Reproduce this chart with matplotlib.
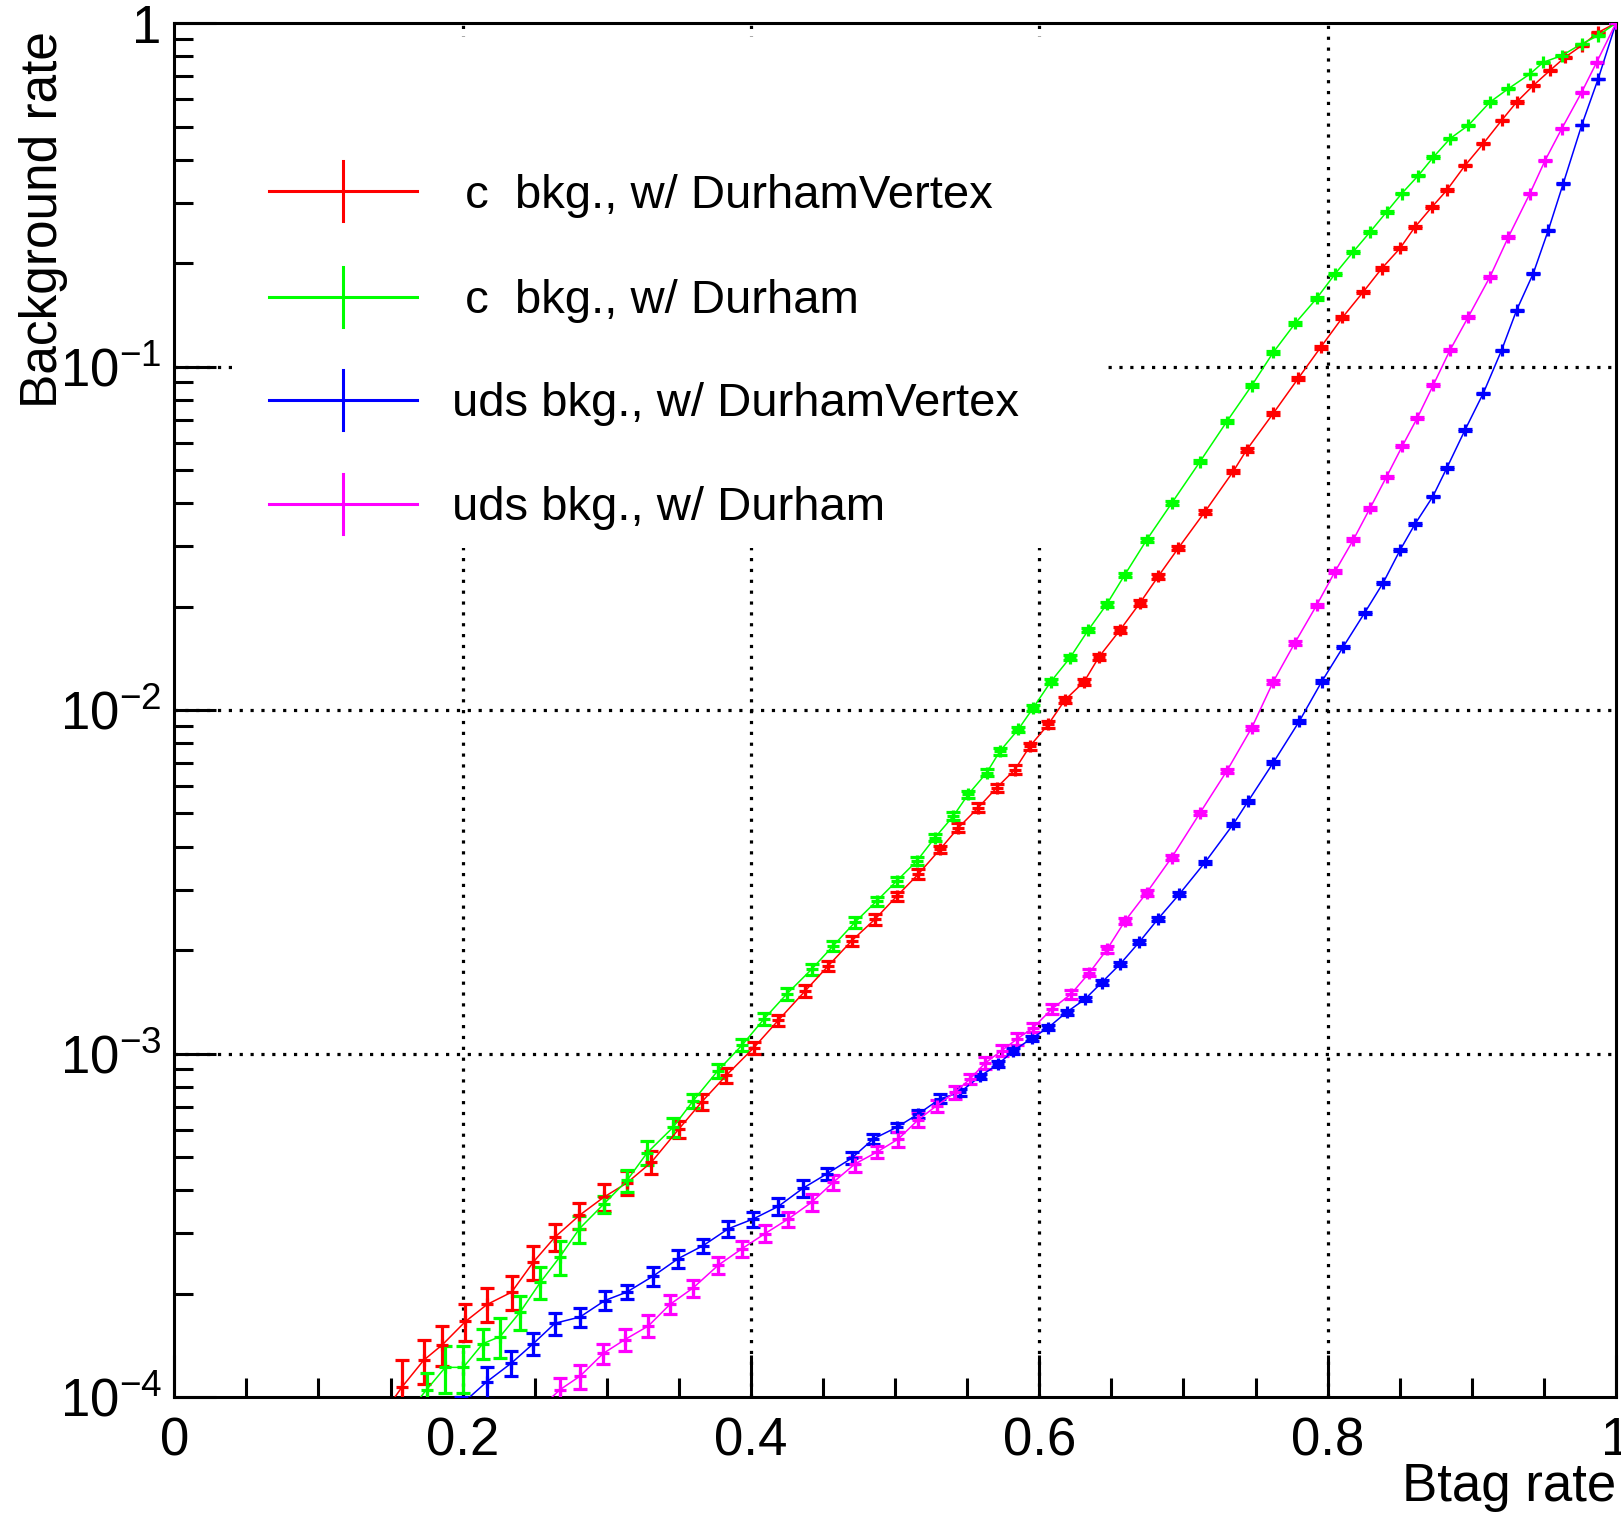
import matplotlib
matplotlib.use("Agg")
import matplotlib.pyplot as plt
import numpy as np
from matplotlib.ticker import MultipleLocator, LogLocator, NullFormatter
from matplotlib.patches import Rectangle

plt.rcParams['font.family'] = ['Liberation Sans', 'DejaVu Sans']
plt.rcParams['mathtext.fontset'] = 'custom'
plt.rcParams['mathtext.rm'] = 'Liberation Sans'
plt.rcParams['mathtext.it'] = 'Liberation Sans:italic'
plt.rcParams['mathtext.bf'] = 'Liberation Sans:bold'

# ---------------- data ----------------
labels = [" c  bkg., w/ DurhamVertex", " c  bkg., w/ Durham",
          "uds bkg., w/ DurhamVertex", "uds bkg., w/ Durham"]
colors = ["#ff0000", "#00ff00", "#0000ff", "#ff00ff"]

red_x = [0.143, 0.158, 0.173, 0.186, 0.202, 0.217, 0.234, 0.249, 0.264, 0.281, 0.298,
         0.314, 0.331, 0.350, 0.366, 0.383, 0.402, 0.419, 0.4375, 0.4536, 0.4699,
         0.4860, 0.5011, 0.5161, 0.5311, 0.5438, 0.5577, 0.5704, 0.5831, 0.5935, 0.6062,
         0.6178, 0.6311, 0.6415, 0.6560, 0.6698, 0.6825, 0.6964, 0.7149, 0.7345, 0.7438,
         0.7623, 0.7796, 0.7953, 0.8103, 0.8247, 0.8375, 0.8502, 0.8606, 0.8722, 0.8826,
         0.8953, 0.9080, 0.9207, 0.9311, 0.9426, 0.9542, 0.9646, 0.9762, 0.9877, 1.0]
red_y = [8.7e-5, 1.07e-4, 1.28e-4, 1.42e-4, 1.66e-4, 1.86e-4, 2.02e-4, 2.47e-4, 2.92e-4,
         3.38e-4, 3.82e-4, 4.20e-4, 4.83e-4, 6.03e-4, 7.24e-4, 8.65e-4, 1.04e-3, 1.25e-3,
         1.52e-3, 1.80e-3, 2.13e-3, 2.46e-3, 2.87e-3, 3.33e-3, 3.93e-3, 4.54e-3, 5.20e-3,
         5.94e-3, 6.71e-3, 7.85e-3, 9.08e-3, 1.07e-2, 1.21e-2, 1.43e-2, 1.71e-2, 2.05e-2,
         2.45e-2, 2.96e-2, 3.78e-2, 4.95e-2, 5.72e-2, 7.31e-2, 9.24e-2, 0.114, 0.139, 0.165,
         0.193, 0.221, 0.255, 0.291, 0.326, 0.385, 0.446, 0.521, 0.589, 0.658, 0.728, 0.795,
         0.860, 0.940, 1.0]
red_rel = [0.05, 0.197, 0.146, 0.135, 0.124, 0.113, 0.113, 0.113, 0.09, 0.085, 0.09, 0.08,
           0.074, 0.057, 0.051, 0.051, 0.04, 0.035, 0.04, 0.035, 0.035, 0.035, 0.03, 0.035,
           0.025, 0.03, 0.03, 0.027, 0.03, 0.024, 0.024, 0.022, 0.02, 0.02, 0.018, 0.018,
           0.016, 0.015, 0.014, 0.013, 0.013, 0.012, 0.011, 0.010, 0.009, 0.009, 0.008,
           0.008, 0.007, 0.007, 0.006, 0.006, 0.005, 0.005, 0.004, 0.004, 0.003, 0.003,
           0.002, 0.002, 0.0]

green_x = [0.162, 0.175, 0.188, 0.2005, 0.214, 0.226, 0.240, 0.254, 0.2675, 0.281, 0.298,
           0.314, 0.328, 0.346, 0.360, 0.377, 0.394, 0.409, 0.4248, 0.4421, 0.4571, 0.4721,
           0.4872, 0.5011, 0.5149, 0.5276, 0.5403, 0.5507, 0.5635, 0.5727, 0.5854, 0.5958,
           0.608, 0.6213, 0.6340, 0.6467, 0.6594, 0.6745, 0.6918, 0.7115, 0.7300, 0.7473,
           0.7623, 0.7774, 0.7924, 0.8051, 0.8178, 0.8294, 0.8409, 0.8514, 0.8629, 0.8733,
           0.8849, 0.8976, 0.9126, 0.9253, 0.9403, 0.9496, 0.9623, 0.9762, 0.9877, 1.0]
green_y = [9.0e-5, 1.05e-4, 1.22e-4, 1.22e-4, 1.43e-4, 1.50e-4, 1.77e-4, 2.16e-4, 2.56e-4,
           3.09e-4, 3.65e-4, 4.27e-4, 5.14e-4, 6.10e-4, 7.29e-4, 8.91e-4, 1.06e-3, 1.26e-3,
           1.49e-3, 1.76e-3, 2.06e-3, 2.41e-3, 2.78e-3, 3.18e-3, 3.63e-3, 4.25e-3, 4.91e-3,
           5.68e-3, 6.57e-3, 7.59e-3, 8.78e-3, 1.015e-2, 1.21e-2, 1.42e-2, 1.71e-2, 2.03e-2,
           2.48e-2, 3.13e-2, 4.00e-2, 5.29e-2, 6.91e-2, 8.8e-2, 0.110, 0.1335, 0.158, 0.186,
           0.216, 0.2465, 0.282, 0.319, 0.360, 0.407, 0.461, 0.504, 0.589, 0.644, 0.711,
           0.769, 0.804, 0.870, 0.920, 1.0]
green_rel = [0.05, 0.12, 0.157, 0.157, 0.10, 0.135, 0.113, 0.107, 0.113, 0.09, 0.057, 0.074,
             0.079, 0.062, 0.046, 0.046, 0.04, 0.04, 0.04, 0.035, 0.035, 0.035, 0.03, 0.03,
             0.028, 0.025, 0.025, 0.025, 0.022, 0.025, 0.02, 0.02, 0.018, 0.017, 0.016,
             0.015, 0.014, 0.013, 0.012, 0.011, 0.010, 0.010, 0.009, 0.008, 0.008, 0.007,
             0.007, 0.006, 0.006, 0.005, 0.005, 0.005, 0.004, 0.004, 0.004, 0.003, 0.003,
             0.003, 0.002, 0.002, 0.002, 0.0]

blue_x = [0.199, 0.2167, 0.2339, 0.2490, 0.2641, 0.2814, 0.2987, 0.3138, 0.3322, 0.3496,
          0.3669, 0.3843, 0.4016, 0.419, 0.4363, 0.4525, 0.4699, 0.4848, 0.5011, 0.5161,
          0.5311, 0.5450, 0.5589, 0.5715, 0.5820, 0.5947, 0.6062, 0.6190, 0.6317, 0.6433,
          0.6560, 0.6693, 0.6825, 0.6971, 0.7149, 0.7345, 0.7449, 0.7623, 0.7803, 0.7959,
          0.8109, 0.8257, 0.8386, 0.8502, 0.8606, 0.8729, 0.8826, 0.8953, 0.9080, 0.9207,
          0.9311, 0.9426, 0.9530, 0.9634, 0.9762, 0.9877, 1.0]
blue_y = [9.5e-5, 1.107e-4, 1.256e-4, 1.43e-4, 1.64e-4, 1.71e-4, 1.91e-4, 2.02e-4, 2.25e-4,
          2.53e-4, 2.76e-4, 3.09e-4, 3.30e-4, 3.59e-4, 4.06e-4, 4.46e-4, 4.96e-4, 5.64e-4,
          6.10e-4, 6.67e-4, 7.38e-4, 7.71e-4, 8.59e-4, 9.31e-4, 1.019e-3, 1.107e-3, 1.19e-3,
          1.32e-3, 1.44e-3, 1.61e-3, 1.82e-3, 2.11e-3, 2.47e-3, 2.91e-3, 3.60e-3, 4.65e-3,
          5.43e-3, 7.03e-3, 9.27e-3, 1.21e-2, 1.53e-2, 1.92e-2, 2.35e-2, 2.92e-2, 3.48e-2,
          4.18e-2, 5.06e-2, 6.54e-2, 8.37e-2, 0.1117, 0.146, 0.1866, 0.249, 0.341, 0.504,
          0.689, 1.0]
blue_rel = [0.05, 0.107, 0.085, 0.074, 0.074, 0.0625, 0.0625, 0.046, 0.0625, 0.0625, 0.046,
            0.051, 0.051, 0.057, 0.057, 0.04, 0.04, 0.035, 0.03, 0.024, 0.03, 0.024, 0.018,
            0.02, 0.02, 0.018, 0.017, 0.016, 0.015, 0.015, 0.014, 0.013, 0.013, 0.012, 0.011,
            0.011, 0.01, 0.009, 0.008, 0.008, 0.007, 0.007, 0.006, 0.006, 0.005, 0.005,
            0.005, 0.004, 0.004, 0.003, 0.003, 0.003, 0.002, 0.002, 0.001, 0.001, 0.0]

mag_x = [0.254, 0.2675, 0.2814, 0.2976, 0.3126, 0.3288, 0.3438, 0.3600, 0.3773, 0.3936,
         0.4097, 0.4259, 0.4421, 0.4571, 0.4721, 0.4872, 0.5022, 0.5161, 0.5288, 0.5415,
         0.5519, 0.5623, 0.5739, 0.5843, 0.5958, 0.6089, 0.6220, 0.6348, 0.6470, 0.6594,
         0.6745, 0.6918, 0.7115, 0.7300, 0.7473, 0.7623, 0.7773, 0.7924, 0.8051, 0.8178,
         0.8294, 0.8409, 0.8519, 0.8623, 0.8733, 0.8849, 0.8976, 0.9126, 0.9253, 0.9403,
         0.9508, 0.9623, 0.9762, 0.9866, 1.0]
mag_y = [9.3e-5, 1.05e-4, 1.15e-4, 1.34e-4, 1.47e-4, 1.61e-4, 1.86e-4, 2.08e-4, 2.42e-4,
         2.70e-4, 2.99e-4, 3.30e-4, 3.69e-4, 4.22e-4, 4.77e-4, 5.16e-4, 5.64e-4, 6.42e-4,
         7.05e-4, 7.71e-4, 8.43e-4, 9.37e-4, 1.02e-3, 1.10e-3, 1.19e-3, 1.35e-3, 1.49e-3,
         1.72e-3, 2.01e-3, 2.43e-3, 2.94e-3, 3.72e-3, 5.02e-3, 6.64e-3, 8.87e-3, 1.21e-2,
         1.57e-2, 2.02e-2, 2.53e-2, 3.13e-2, 3.87e-2, 4.78e-2, 5.88e-2, 7.1e-2, 8.84e-2,
         0.1117, 0.1396, 0.1825, 0.238, 0.319, 0.398, 0.492, 0.629, 0.769, 1.0]
mag_rel = [0.05, 0.08, 0.08, 0.068, 0.074, 0.074, 0.0625, 0.057, 0.057, 0.051, 0.057, 0.051,
           0.057, 0.051, 0.051, 0.04, 0.051, 0.046, 0.04, 0.046, 0.035, 0.04, 0.035, 0.04,
           0.03, 0.035, 0.03, 0.025, 0.022, 0.02, 0.02, 0.018, 0.016, 0.015, 0.014, 0.013,
           0.012, 0.011, 0.01, 0.01, 0.009, 0.008, 0.008, 0.007, 0.007, 0.006, 0.006, 0.005,
           0.005, 0.004, 0.004, 0.003, 0.003, 0.002, 0.0]

x_ticks = [0, 0.2, 0.4, 0.6, 0.8, 1.0]
x_ticklabels = ["0", "0.2", "0.4", "0.6", "0.8", "1"]
y_ticks = [1e-4, 1e-3, 1e-2, 1e-1, 1.0]
y_ticklabels = [r"$\mathregular{10^{-4}}$", r"$\mathregular{10^{-3}}$",
                r"$\mathregular{10^{-2}}$", r"$\mathregular{10^{-1}}$", "1"]

series = [(red_x, red_y, red_rel), (green_x, green_y, green_rel),
          (blue_x, blue_y, blue_rel), (mag_x, mag_y, mag_rel)]

# ---------------- figure ----------------
fig = plt.figure(figsize=(16.21, 15.20), dpi=100)
ax = fig.add_axes([0.1075, 0.0809, 0.8894, 0.9039])
ax.set_xscale('linear')
ax.set_yscale('log')
ax.set_xlim(0, 1)
ax.set_ylim(1e-4, 1)
ax.set_axisbelow(False)

# dotted grid
for xv in x_ticks[1:-1]:
    ax.axvline(xv, color='black', lw=2.3, ls=(0, (1, 2.4)), zorder=1)
for yv in y_ticks[1:-1]:
    ax.axhline(yv, color='black', lw=2.3, ls=(0, (1, 2.4)), zorder=1)

# white legend box hiding the grid
ax.add_patch(Rectangle((0.042, 0.618), 0.606, 0.372, transform=ax.transAxes,
                       facecolor='white', edgecolor='none', zorder=1.5))

for (xs, ys, rel), col in zip(series, colors):
    xs = np.asarray(xs); ys = np.asarray(ys); rel = np.asarray(rel)
    assert len(xs) == len(ys) == len(rel), (len(xs), len(ys), len(rel))
    ax.errorbar(xs, ys, yerr=ys * rel, color=col, lw=1.1, elinewidth=2.3,
                capsize=4.8, capthick=2.3, marker='+', markersize=8,
                markeredgewidth=2.3, zorder=3)

# ticks
ax.set_xticks(x_ticks)
ax.set_xticklabels(x_ticklabels)
ax.xaxis.set_minor_locator(MultipleLocator(0.05))
ax.set_yticks(y_ticks)
ax.set_yticklabels(y_ticklabels)
ax.yaxis.set_minor_locator(LogLocator(base=10, subs=np.arange(2, 10)))
ax.yaxis.set_minor_formatter(NullFormatter())
ax.tick_params(which='both', direction='in', top=False, right=False, width=2.2,
               labelsize=38)
ax.tick_params(which='major', length=30)
ax.tick_params(which='minor', length=13.5)
ax.tick_params(axis='x', which='major', pad=14)
ax.tick_params(axis='y', which='major', pad=9)
for sp in ax.spines.values():
    sp.set_linewidth(2.2)

# axis titles
ax.set_xlabel("Btag rate", fontsize=38, loc='right')
ax.xaxis.set_label_coords(1.0, -0.047)
ax.set_ylabel("Background rate", fontsize=37, loc='top')
ax.yaxis.set_label_coords(-0.074, 0.994)

# legend (drawn by hand, ROOT style)
leg_y = [0.8775, 0.8008, 0.7256, 0.6503]
for lab, col, yy in zip(labels, colors, leg_y):
    ax.plot([0.0657, 0.1683], [yy, yy], color=col, lw=2.2, transform=ax.transAxes,
            clip_on=False, zorder=4)
    ax.plot([0.117, 0.117], [yy - 0.0218, yy + 0.0218], color=col, lw=2.2,
            transform=ax.transAxes, clip_on=False, zorder=4)
    ax.text(0.1925, yy - 0.003, lab, transform=ax.transAxes, fontsize=34, va='center',
            ha='left', zorder=4)

fig.savefig("out.png", dpi=100)
